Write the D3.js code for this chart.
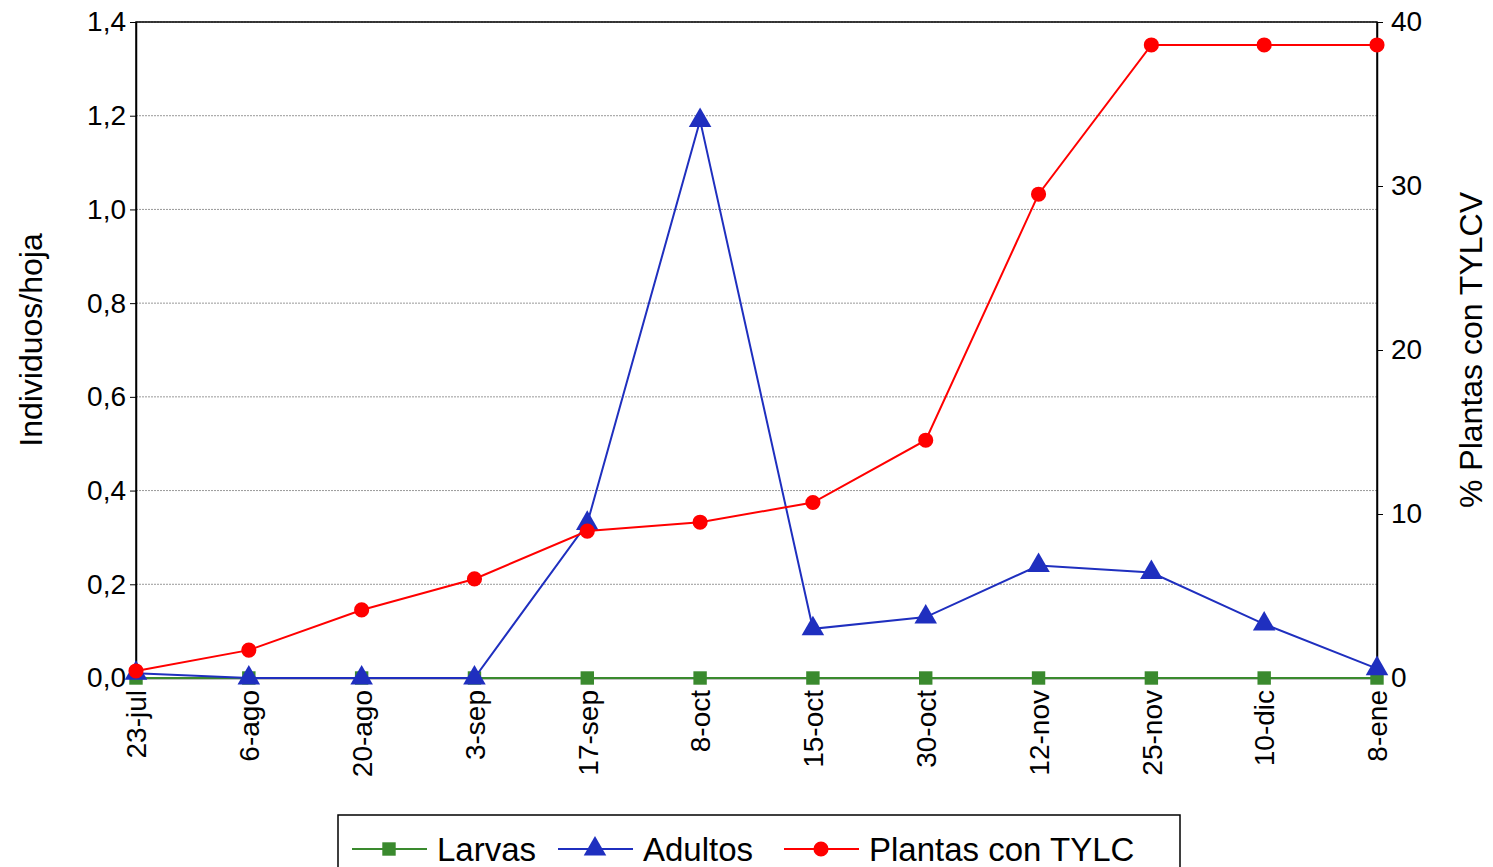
<!DOCTYPE html>
<html><head><meta charset="utf-8">
<script src="https://cdn.jsdelivr.net/npm/d3@7"></script>
<style>body{margin:0;background:#fff}text{font-family:"Liberation Sans",Arial,sans-serif}</style>
</head><body><svg id="c" width="1493" height="867"></svg>
<script>
const categories=["23-jul","6-ago","20-ago","3-sep","17-sep","8-oct","15-oct","30-oct","12-nov","25-nov","10-dic","8-ene"];
const larvas=[0,0,0,0,0,0,0,0,0,0,0,0];
const adultos=[0.01,0,0,0,0.33,1.19,0.105,0.13,0.24,0.225,0.115,0.02];
const plantas=[0.43,1.7,4.15,6.04,8.96,9.5,10.7,14.5,29.5,38.6,38.6,38.6];
const leftTicks=[0,0.2,0.4,0.6,0.8,1.0,1.2,1.4];
const rightTicks=[0,10,20,30,40];

const svg=d3.select("#c");
const L=136,R=1377,T=22,B=678;
const x=d3.scalePoint().domain(categories).range([L,R]);
const yL=d3.scaleLinear().domain([0,1.4]).range([B,T]);
const yR=d3.scaleLinear().domain([0,40]).range([B,T]);
const fmt=d=>d.toFixed(1).replace(".",",");

svg.append("g").selectAll("line").data(leftTicks.slice(1)).join("line")
 .attr("x1",L).attr("x2",R).attr("y1",yL).attr("y2",yL)
 .attr("stroke","#999").attr("stroke-dasharray","2,1");
svg.append("rect").attr("x",L).attr("y",T).attr("width",R-L).attr("height",B-T).attr("fill","none").attr("stroke","#000").attr("stroke-width",1.5);

const ga=svg.append("g").attr("transform",`translate(${L},0)`).call(d3.axisLeft(yL).tickValues(leftTicks).tickFormat(fmt).tickSize(6).tickSizeOuter(0));
const gr=svg.append("g").attr("transform",`translate(${R},0)`).call(d3.axisRight(yR).tickValues(rightTicks).tickSize(6).tickSizeOuter(0));
const gx=svg.append("g").attr("transform",`translate(0,${B})`).call(d3.axisBottom(x).tickSize(6).tickSizeOuter(0));
[ga,gr,gx].forEach(g=>{g.select(".domain").attr("stroke","#000").attr("stroke-width",1.5);g.selectAll("text").attr("font-size",28).attr("fill","#000");g.selectAll("line").attr("stroke","#000")});
ga.selectAll("text").attr("x",-10);
gr.selectAll("text").attr("x",14);
gx.selectAll("text").attr("transform","rotate(-90)").attr("text-anchor","end").attr("x",-12).attr("y",0).attr("dy","0.35em");

svg.append("text").attr("transform",`translate(42,${(T+B)/2-10}) rotate(-90)`).attr("text-anchor","middle").attr("font-size",32).text("Individuos/hoja");
svg.append("text").attr("transform",`translate(1482,${(T+B)/2}) rotate(-90)`).attr("text-anchor","middle").attr("font-size",32).text("% Plantas con TYLCV");

function series(vals,y,color,shape){
 const pts=vals.map((v,i)=>[x(categories[i]),y(v)]);
 svg.append("path").attr("d",d3.line()(pts)).attr("fill","none").attr("stroke",color).attr("stroke-width",2);
 svg.append("g").selectAll("path").data(pts).join("path")
  .attr("transform",d=>`translate(${d[0]},${d[1]})`)
  .attr("d",d3.symbol().type(shape).size(shape===d3.symbolTriangle?220:180)).attr("fill",color);
}
series(larvas,yL,"#3a8a2e",d3.symbolSquare);
series(adultos,yL,"#1f2fbf",d3.symbolTriangle);
series(plantas,yR,"#ff0000",d3.symbolCircle);

const lg=svg.append("g");
lg.append("rect").attr("x",338).attr("y",815).attr("width",842).attr("height",70).attr("fill","#fff").attr("stroke","#000").attr("stroke-width",1.5);
const items=[["Larvas","#3a8a2e",d3.symbolSquare,352],["Adultos","#1f2fbf",d3.symbolTriangle,558],["Plantas con TYLC","#ff0000",d3.symbolCircle,784]];
items.forEach(([t,c,s,x0])=>{
 lg.append("line").attr("x1",x0).attr("x2",x0+75).attr("y1",849).attr("y2",849).attr("stroke",c).attr("stroke-width",2);
 lg.append("path").attr("transform",`translate(${x0+37},849)`).attr("d",d3.symbol().type(s).size(s===d3.symbolTriangle?220:180)).attr("fill",c);
 lg.append("text").attr("x",x0+85).attr("y",861).attr("font-size",33).text(t);
});
</script></body></html>
